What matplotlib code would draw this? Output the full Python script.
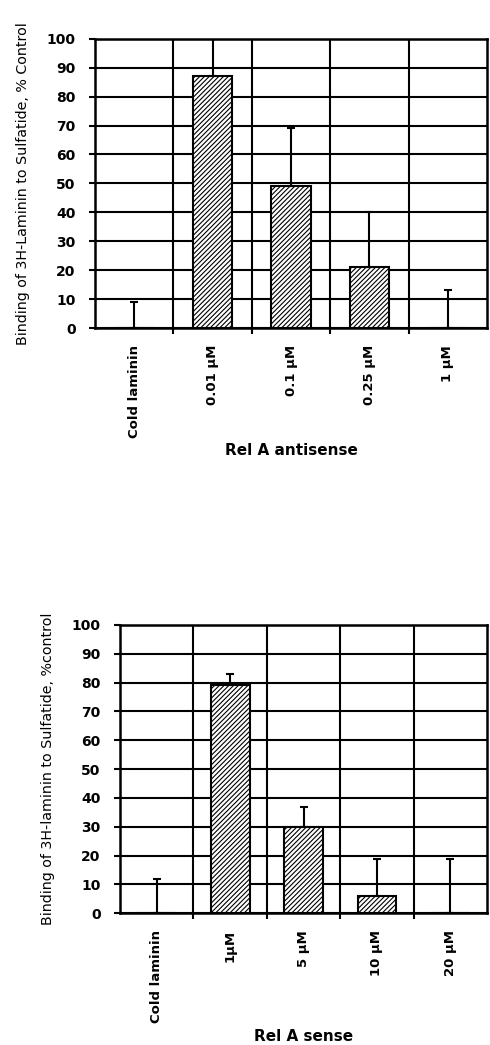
import matplotlib.pyplot as plt
import numpy as np

plt.rcParams['font.family'] = ['DejaVu Sans']
plt.rcParams['hatch.linewidth'] = 0.8

# top panel: Rel A antisense
top_labels = ["Cold laminin", "0.01 \u00b5M", "0.1 \u00b5M", "0.25 \u00b5M", "1 \u00b5M"]
top_values = [0, 87, 49, 21, 0]
top_err = [9, 13, 20, 19, 13]

# bottom panel: Rel A sense
bot_labels = ["Cold laminin", "1\u00b5M", "5 \u00b5M", "10 \u00b5M", "20 \u00b5M"]
bot_values = [0, 79, 30, 6, 0]
bot_err = [12, 4, 7, 13, 19]

yticks = list(range(0, 101, 10))


def draw_panel(ax, labels, values, err, xlabel, ylabel, width):
    x = np.arange(len(labels))
    ax.set_xlim(-0.5, len(labels) - 0.5)
    ax.set_ylim(0, 100)
    # grid: horizontal every 10, vertical at category boundaries
    for y in yticks:
        ax.axhline(y, color="black", lw=1.5, zorder=1)
    for b in x[:-1] + 0.5:
        ax.axvline(b, color="black", lw=1.5, zorder=1)
    ax.bar(x, values, width=width, color="white", edgecolor="black",
           hatch="///////", lw=1.5, zorder=3)
    ax.errorbar(x, values, yerr=[np.zeros(len(err)), err], fmt="none",
                ecolor="black", elinewidth=1.5, capsize=3, capthick=1.5, zorder=4)
    ax.set_yticks(yticks)
    ax.set_yticklabels([str(t) for t in yticks], fontsize=10, fontweight="bold")
    ax.set_xticks(x)
    ax.set_xticklabels(labels, rotation=90, fontsize=9.5, fontweight="bold")
    ax.set_xticks(x[:-1] + 0.5, minor=True)
    ax.tick_params(axis="x", which="major", length=0, pad=12)
    ax.tick_params(axis="x", which="minor", length=4, width=1.5)
    ax.tick_params(axis="y", length=4, width=1.5, pad=10)
    for s in ax.spines.values():
        s.set_linewidth(1.8)
    ax.set_xlabel(xlabel, fontsize=11, fontweight="bold", labelpad=4)
    ax.set_ylabel(ylabel, fontsize=10.3, labelpad=12)


fig = plt.figure(figsize=(4.9, 10.45), dpi=100)
ax1 = fig.add_axes([0.194, 0.686, 0.800, 0.277])
ax2 = fig.add_axes([0.245, 0.126, 0.749, 0.276])

draw_panel(ax1, top_labels, top_values, top_err, "Rel A antisense",
           "Binding of 3H-Laminin to Sulfatide, % Control", 0.5)
draw_panel(ax2, bot_labels, bot_values, bot_err, "Rel A sense",
           "Binding of 3H-laminin to Sulfatide, %control", 0.53)

fig.savefig("out.png", dpi=100)
